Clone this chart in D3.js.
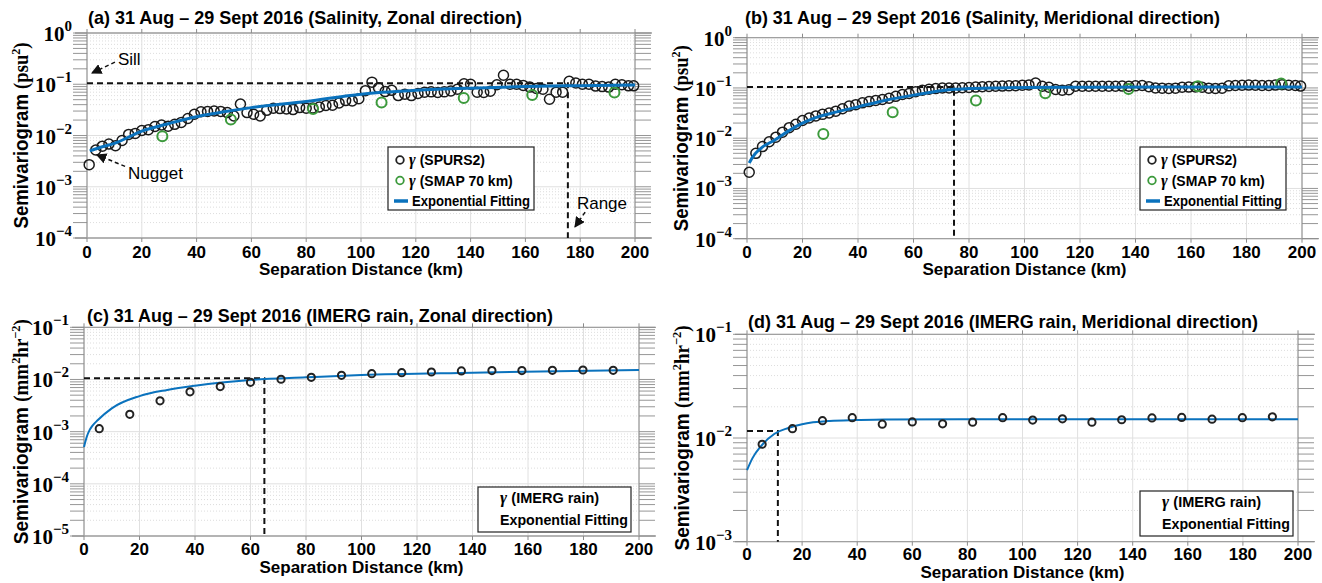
<!DOCTYPE html>
<html>
<head>
<meta charset="utf-8">
<script src="https://cdn.jsdelivr.net/npm/d3@7"></script>
<style>
 body { margin: 0; background: #fff; }
 text { font-family: "Liberation Sans", Arial, sans-serif; }
</style>
</head>
<body>
<script>
 // semivariogram panels, SPURS2 / SMAP / IMERG

 // separation distances of the SPURS2 bins (km)
 var spursX = [0.8, 3.2, 5.6, 8.0, 10.4, 12.8, 15.2, 17.6, 20.0, 22.4, 24.8, 27.2, 29.6, 32.0, 34.4, 36.8, 39.2, 41.6, 44.0, 46.4,
 	48.8, 51.2, 53.6, 56.0, 58.4, 60.8, 63.2, 65.6, 68.0, 70.4, 72.8, 75.2, 77.6, 80.0, 82.4, 84.8, 87.2, 89.6, 92.0, 94.4,
 	96.8, 99.2, 101.6, 104.0, 106.4, 108.8, 111.2, 113.6, 116.0, 118.4, 120.8, 123.2, 125.6, 128.0, 130.4, 132.8, 135.2, 137.6, 140.0, 142.4,
 	144.8, 147.2, 149.6, 152.0, 154.4, 156.8, 159.2, 161.6, 164.0, 166.4, 168.8, 171.2, 173.6, 176.0, 178.4, 180.8, 183.2, 185.6, 188.0, 190.4,
 	192.8, 195.2, 197.6, 199.5];

 // (a) salinity, zonal
 var spursZonal = [0.0027, 0.0052, 0.0062, 0.0068, 0.0063, 0.0080, 0.0105, 0.0110, 0.0125, 0.0130, 0.0150, 0.0160, 0.0152, 0.0165, 0.0180, 0.0215, 0.0260, 0.0290, 0.0295, 0.0300,
 	0.0295, 0.0280, 0.0240, 0.0410, 0.0280, 0.0260, 0.0240, 0.0310, 0.0340, 0.0335, 0.0330, 0.0320, 0.0350, 0.0340, 0.0345, 0.0360, 0.0385, 0.0390, 0.0430, 0.0480,
 	0.0470, 0.0520, 0.0750, 0.1100, 0.0850, 0.0720, 0.0760, 0.0600, 0.0640, 0.0600, 0.0660, 0.0700, 0.0710, 0.0690, 0.0710, 0.0740, 0.0800, 0.1020, 0.1000, 0.0700,
 	0.0690, 0.0730, 0.0980, 0.1500, 0.1000, 0.1000, 0.0950, 0.0880, 0.0830, 0.0800, 0.0510, 0.0700, 0.0700, 0.1140, 0.1060, 0.1000, 0.1000, 0.0920, 0.0900, 0.0880,
 	0.1000, 0.0980, 0.0930, 0.0930];
 // (b) salinity, meridional
 var spursMerid = [0.0021, 0.0050, 0.0068, 0.0085, 0.0105, 0.0132, 0.0162, 0.0190, 0.0225, 0.0252, 0.0278, 0.0298, 0.0318, 0.0345, 0.0385, 0.0435, 0.0465, 0.0505, 0.0535, 0.0565,
 	0.0590, 0.0625, 0.0680, 0.0740, 0.0775, 0.0840, 0.0900, 0.0940, 0.0970, 0.1000, 0.1000, 0.1000, 0.1010, 0.1020, 0.1040, 0.1060, 0.1070, 0.1080, 0.1090, 0.1100,
 	0.1110, 0.1130, 0.1150, 0.1250, 0.1080, 0.1030, 0.0930, 0.0900, 0.0920, 0.1080, 0.1080, 0.1080, 0.1080, 0.1080, 0.1080, 0.1080, 0.1090, 0.1080, 0.1100, 0.1120,
 	0.1060, 0.1000, 0.0990, 0.0980, 0.0990, 0.1030, 0.1040, 0.1050, 0.1030, 0.0990, 0.0980, 0.0990, 0.1100, 0.1120, 0.1130, 0.1140, 0.1130, 0.1120, 0.1120, 0.1140,
 	0.1160, 0.1130, 0.1120, 0.1090];

 var smapX = [27.5, 52.5, 82.5, 107.5, 137.5, 162.5, 192.5];
 var smapZonal = [0.0097, 0.0205, 0.033, 0.044, 0.054, 0.062, 0.069];
 var smapMerid = [0.0121, 0.0327, 0.056, 0.078, 0.095, 0.108, 0.122];

 // exponential fits
 var fitZonalX = [1, 5, 10, 20, 30, 40, 50, 60, 80, 100, 120, 140, 160, 180, 200];
 var fitZonalY = [0.0050, 0.0059, 0.0070, 0.0122, 0.0172, 0.0233, 0.029, 0.035, 0.046, 0.064, 0.076, 0.084, 0.090, 0.094, 0.097];
 var fitMeridX = [0.8, 2, 5, 10, 15, 20, 25, 30, 40, 50, 60, 70, 75, 80, 90, 100, 120, 150, 200];
 var fitMeridY = [0.0032, 0.0042, 0.0063, 0.0092, 0.0140, 0.0200, 0.0260, 0.031, 0.042, 0.057, 0.072, 0.088, 0.094, 0.097, 0.100, 0.102, 0.103, 0.104, 0.105];

 // IMERG rain
 var imergX = [5.5, 16.5, 27.4, 38.2, 49.1, 60.0, 71.0, 81.9, 92.8, 103.7, 114.5, 125.2, 136.0, 147.0, 157.8, 168.8, 179.8, 190.7];
 var imergZonal = [0.00114, 0.00215, 0.0039, 0.0058, 0.0073, 0.0088, 0.0101, 0.0110, 0.0120, 0.0129, 0.0135, 0.0139, 0.0146, 0.0148, 0.0148, 0.0150, 0.0152, 0.0150];
 var imergMerid = [0.0087, 0.0123, 0.0147, 0.0157, 0.0136, 0.0143, 0.0137, 0.0142, 0.0157, 0.0149, 0.0153, 0.0142, 0.0150, 0.0156, 0.0158, 0.0152, 0.0157, 0.0160];
 var fitRainZX = [0, 1, 2, 3, 5, 10, 20, 30, 40, 60, 80, 100, 140, 200];
 var fitRainZY = [0.00051, 0.0008, 0.00107, 0.00129, 0.00167, 0.0028, 0.0048, 0.0063, 0.0076, 0.0098, 0.0110, 0.0122, 0.0135, 0.0152];
 var fitRainMX = [0, 2, 5, 10, 15, 20, 30, 40, 50, 80, 200];
 var fitRainMY = [0.0049, 0.0064, 0.0083, 0.0110, 0.0125, 0.0136, 0.0146, 0.0149, 0.0151, 0.0152, 0.0152];

 // sill / range guides [range km, sill]
 var guideA = [175.5, 0.105], guideB = [74.6, 0.105], guideC = [65, 0.0105], guideD = [11.2, 0.0117];

 var xTicks = [0, 20, 40, 60, 80, 100, 120, 140, 160, 180, 200];

 var blue = "#0a72bd", green = "#3c9a3c", axisGray = "#a0a0a0";

 var svg = d3.select("body").append("svg")
 	.attr("width", 1322)
 	.attr("height", 583)
 	.style("background", "#fff");

 var defs = svg.append("defs");
 defs.append("marker")
 	.attr("id", "arr")
 	.attr("viewBox", "0 0 10 10")
 	.attr("refX", 9).attr("refY", 5)
 	.attr("markerWidth", 7).attr("markerHeight", 7)
 	.attr("orient", "auto")
 	.append("path").attr("d", "M0,0L10,5L0,10z").attr("fill", "#111");

 function panel(p) {
 	var x = d3.scaleLinear().domain([0, 200]).range([p.x0, p.x1]);
 	var y = d3.scaleLog().domain(p.ydom).range([p.yb, p.yt]);
 	var g = svg.append("g");

 	// minor grid (dotted) + major grid
 	var e0 = Math.round(Math.log10(p.ydom[0])), e1 = Math.round(Math.log10(p.ydom[1]));
 	var minors = [], majors = [];
 	for (var e = e0; e <= e1; e++) {
 		majors.push(Math.pow(10, e));
 		if (e < e1) for (var m = 2; m <= 9; m++) minors.push(m * Math.pow(10, e));
 	}
 	g.selectAll(".mg").data(minors).enter().append("line")
 		.attr("x1", p.x0).attr("x2", p.x1)
 		.attr("y1", d => y(d)).attr("y2", d => y(d))
 		.attr("stroke", "#d4d4d4").attr("stroke-dasharray", "1,2").attr("stroke-width", 0.8);
 	g.selectAll(".Mg").data(majors).enter().append("line")
 		.attr("x1", p.x0).attr("x2", p.x1)
 		.attr("y1", d => y(d)).attr("y2", d => y(d))
 		.attr("stroke", "#e0e0e0");
 	g.selectAll(".vg").data(xTicks).enter().append("line")
 		.attr("x1", d => x(d)).attr("x2", d => x(d))
 		.attr("y1", p.yt).attr("y2", p.yb)
 		.attr("stroke", "#e0e0e0");

 	// box
 	g.append("line").attr("x1", p.x0 - 12).attr("x2", p.x1 + 17).attr("y1", p.yt).attr("y2", p.yt).attr("stroke", axisGray).attr("stroke-width", 1.3);
 	g.append("line").attr("x1", p.x0 - 12).attr("x2", p.x1 + 17).attr("y1", p.yb).attr("y2", p.yb).attr("stroke", axisGray).attr("stroke-width", 1.3);
 	g.append("line").attr("x1", p.x0).attr("x2", p.x0).attr("y1", p.yt).attr("y2", p.yb).attr("stroke", axisGray).attr("stroke-width", 1.3);
 	g.append("line").attr("x1", p.x1).attr("x2", p.x1).attr("y1", p.yt).attr("y2", p.yb).attr("stroke", axisGray).attr("stroke-width", 1.3);

 	// outer ticks left/right
 	var allT = minors.concat(majors);
 	g.selectAll(".tl").data(allT).enter().append("line")
 		.attr("x1", p.x0 - 14).attr("x2", p.x0)
 		.attr("y1", d => y(d)).attr("y2", d => y(d))
 		.attr("stroke", "#8a8a8a").attr("stroke-width", 0.9);
 	g.selectAll(".tr").data(allT).enter().append("line")
 		.attr("x1", p.x1).attr("x2", p.x1 + 16)
 		.attr("y1", d => y(d)).attr("y2", d => y(d))
 		.attr("stroke", "#8a8a8a").attr("stroke-width", 0.9);
 	g.selectAll(".tt").data(xTicks).enter().append("line")
 		.attr("x1", d => x(d)).attr("x2", d => x(d))
 		.attr("y1", p.yt - 4).attr("y2", p.yt)
 		.attr("stroke", "#8a8a8a");
 	g.selectAll(".tb").data(xTicks).enter().append("line")
 		.attr("x1", d => x(d)).attr("x2", d => x(d))
 		.attr("y1", p.yb).attr("y2", p.yb + 4)
 		.attr("stroke", "#8a8a8a");

 	// y tick labels 10^n
 	var yl = g.selectAll(".yl").data(majors).enter().append("text")
 		.attr("x", p.x0 - 15)
 		.attr("y", d => y(d) + 8)
 		.attr("text-anchor", "end")
 		.style("font-family", "'Liberation Serif', serif")
 		.style("font-weight", "bold")
 		.style("font-size", "21px");
 	yl.append("tspan").text("10");
 	yl.append("tspan").attr("dy", -10).style("font-size", "15px")
 		.text(d => { var n = Math.round(Math.log10(d)); return n < 0 ? "\u2212" + (-n) : "" + n; });

 	// x tick labels
 	g.selectAll(".xl").data(xTicks).enter().append("text")
 		.attr("x", d => x(d)).attr("y", p.xly)
 		.attr("text-anchor", "middle")
 		.style("font-weight", "bold").style("font-size", "17px")
 		.text(d => d);

 	g.append("text")
 		.attr("x", (p.x0 + p.x1) / 2).attr("y", p.xty)
 		.attr("text-anchor", "middle")
 		.style("font-weight", "bold").style("font-size", "17px")
 		.text("Separation Distance (km)");

 	// y label
 	var ylab = g.append("text")
 		.attr("transform", "translate(" + p.ylx + "," + ((p.yt + p.yb) / 2) + ") rotate(-90)")
 		.attr("text-anchor", "middle")
 		.attr("textLength", p.ylen)
 		.attr("lengthAdjust", "spacingAndGlyphs")
 		.style("font-weight", "bold").style("font-size", "20px");
 	ylab.append("tspan").text("Semivariogram ");
 	p.unit.forEach(function (u) {
 		ylab.append("tspan")
 			.attr("dy", u[1])
 			.style("font-family", "'Liberation Serif', serif")
 			.style("font-size", u[2])
 			.text(u[0]);
 	});

 	// title
 	g.append("text")
 		.attr("x", p.tx).attr("y", p.ty)
 		.attr("textLength", p.tlen)
 		.attr("lengthAdjust", "spacingAndGlyphs")
 		.style("font-weight", "bold").style("font-size", "19px")
 		.text(p.title);

 	// sill and range guides
 	var gd = p.guide;
 	g.append("path")
 		.attr("d", "M" + x(0) + "," + y(gd[1]) + "H" + x(gd[0]) + "V" + p.yb)
 		.attr("fill", "none").attr("stroke", "#111").attr("stroke-width", 2)
 		.attr("stroke-dasharray", "6,4");

 	var line = d3.line().x(d => x(d[0])).y(d => y(d[1])).curve(d3.curveMonotoneX);
 	var plot = { x: x, y: y, g: g, line: line };
 	return plot;
 }

 function dots(pl, xs, ys, color, r, sw) {
 	pl.g.append("g").selectAll("circle").data(d3.zip(xs, ys)).enter().append("circle")
 		.attr("cx", d => pl.x(d[0])).attr("cy", d => pl.y(d[1]))
 		.attr("r", r).attr("fill", "none").attr("stroke", color).attr("stroke-width", sw);
 }
 function fit(pl, xs, ys, w) {
 	pl.g.append("path").datum(d3.zip(xs, ys))
 		.attr("d", pl.line).attr("fill", "none").attr("stroke", blue).attr("stroke-width", w);
 }

 function legend3(x0, y0) {
 	var lg = svg.append("g").attr("transform", "translate(" + x0 + "," + y0 + ")");
 	lg.append("rect").attr("width", 146).attr("height", 63).attr("fill", "#fff").attr("stroke", "#222").attr("stroke-width", 1.2);
 	var rows = [["(SPURS2)", "#222"], ["(SMAP 70 km)", green], ["Exponential Fitting", null]];
 	rows.forEach(function (r, i) {
 		var yy = 13 + i * 20.5;
 		if (r[1]) {
 			lg.append("circle").attr("cx", 12).attr("cy", yy).attr("r", 3.8).attr("fill", "none").attr("stroke", r[1]).attr("stroke-width", 1.8);
 			var t = lg.append("text").attr("x", 21).attr("y", yy + 5).style("font-weight", "bold").style("font-size", "14px");
 			t.append("tspan").style("font-family", "'Liberation Serif', serif").style("font-style", "italic").style("font-size", "16px").text("\u03b3 ");
 			t.append("tspan").text(r[0]);
 		} else {
 			lg.append("line").attr("x1", 6).attr("x2", 20).attr("y1", yy).attr("y2", yy).attr("stroke", blue).attr("stroke-width", 3.5);
 			lg.append("text").attr("x", 24).attr("y", yy + 5).attr("textLength", 118).attr("lengthAdjust", "spacingAndGlyphs")
 				.style("font-weight", "bold").style("font-size", "14px").text(r[0]);
 		}
 	});
 }
 function legend2(x0, y0, w) {
 	var lg = svg.append("g").attr("transform", "translate(" + x0 + "," + y0 + ")");
 	lg.append("rect").attr("width", w).attr("height", 45).attr("fill", "#fff").attr("stroke", "#222").attr("stroke-width", 1.2);
 	var t = lg.append("text").attr("x", 22).attr("y", 16).style("font-weight", "bold").style("font-size", "14.5px");
 	t.append("tspan").style("font-family", "'Liberation Serif', serif").style("font-style", "italic").style("font-size", "17px").text("\u03b3 ");
 	t.append("tspan").text("(IMERG rain)");
 	lg.append("text").attr("x", 22).attr("y", 38).attr("textLength", 128).attr("lengthAdjust", "spacingAndGlyphs")
 		.style("font-weight", "bold").style("font-size", "14.5px").text("Exponential Fitting");
 }

 var psu = [["(psu", 0, "20px"], ["2", -8, "13px"], [")", 8, "20px"]];
 var mm = [["(mm", 0, "20px"], ["2", -8, "13px"], ["hr", 8, "20px"], ["\u22122", -8, "13px"], [")", 8, "20px"]];

 // (a)
 var pa = panel({ x0: 87, x1: 635, yt: 33, yb: 238, ydom: [1e-4, 1], xly: 258, xty: 275, ylx: 28, ylen: 186, unit: psu,
 	tx: 88, ty: 24, tlen: 434, title: "(a) 31 Aug \u2013 29 Sept 2016 (Salinity, Zonal direction)", guide: guideA });
 dots(pa, spursX, spursZonal, "#1a1a1a", 5, 1.5);
 dots(pa, smapX, smapZonal, green, 5, 2);
 fit(pa, fitZonalX, fitZonalY, 3);

 // (b)
 var pb = panel({ x0: 747, x1: 1302, yt: 37.7, yb: 238.7, ydom: [1e-4, 1], xly: 258, xty: 275, ylx: 688, ylen: 186, unit: psu,
 	tx: 745, ty: 24, tlen: 475, title: "(b) 31 Aug \u2013 29 Sept 2016 (Salinity, Meridional direction)", guide: guideB });
 dots(pb, spursX, spursMerid, "#1a1a1a", 5, 1.5);
 dots(pb, smapX, smapMerid, green, 5, 2);
 fit(pb, fitMeridX, fitMeridY, 3);

 // (c)
 var pc = panel({ x0: 84, x1: 639, yt: 327.3, yb: 536, ydom: [1e-5, 1e-1], xly: 555, xty: 573, ylx: 28, ylen: 225, unit: mm,
 	tx: 87, ty: 322, tlen: 466, title: "(c) 31 Aug \u2013 29 Sept 2016 (IMERG rain, Zonal direction)", guide: guideC });
 fit(pc, fitRainZX, fitRainZY, 2);
 dots(pc, imergX, imergZonal, "#222", 3.6, 2);

 // (d)
 var pd = panel({ x0: 747, x1: 1298, yt: 334.3, yb: 541.7, ydom: [1e-3, 1e-1], xly: 560, xty: 578, ylx: 689, ylen: 225, unit: mm,
 	tx: 748, ty: 328, tlen: 510, title: "(d) 31 Aug \u2013 29 Sept 2016 (IMERG rain, Meridional direction)", guide: guideD });
 fit(pd, fitRainMX, fitRainMY, 2);
 dots(pd, imergX, imergMerid, "#222", 3.6, 2);

 legend3(388, 147);
 legend3(1140, 147);
 legend2(478, 487, 153);
 legend2(1140, 491, 153);

 // annotations in (a)
 function note(pl, txt, tx, ty, ax, ay, bx, by) {
 	pl.g.append("text").attr("x", pl.x(tx)).attr("y", pl.y(ty))
 		.style("font-family", "'Liberation Sans', Arial, sans-serif").style("font-size", "17px").text(txt);
 	pl.g.append("line")
 		.attr("x1", pl.x(ax)).attr("y1", pl.y(ay)).attr("x2", pl.x(bx)).attr("y2", pl.y(by))
 		.attr("stroke", "#111").attr("stroke-width", 1.5).attr("stroke-dasharray", "4,3")
 		.attr("marker-end", "url(#arr)");
 }
 note(pa, "Sill", 11.3, 0.24, 10.2, 0.27, 1.8, 0.166);
 note(pa, "Nugget", 15, 0.0014, 13.9, 0.0025, 3.6, 0.0042);
 note(pa, "Range", 178.8, 0.00036, 181.8, 0.00032, 178.1, 0.000165);
</script>
</body>
</html>
